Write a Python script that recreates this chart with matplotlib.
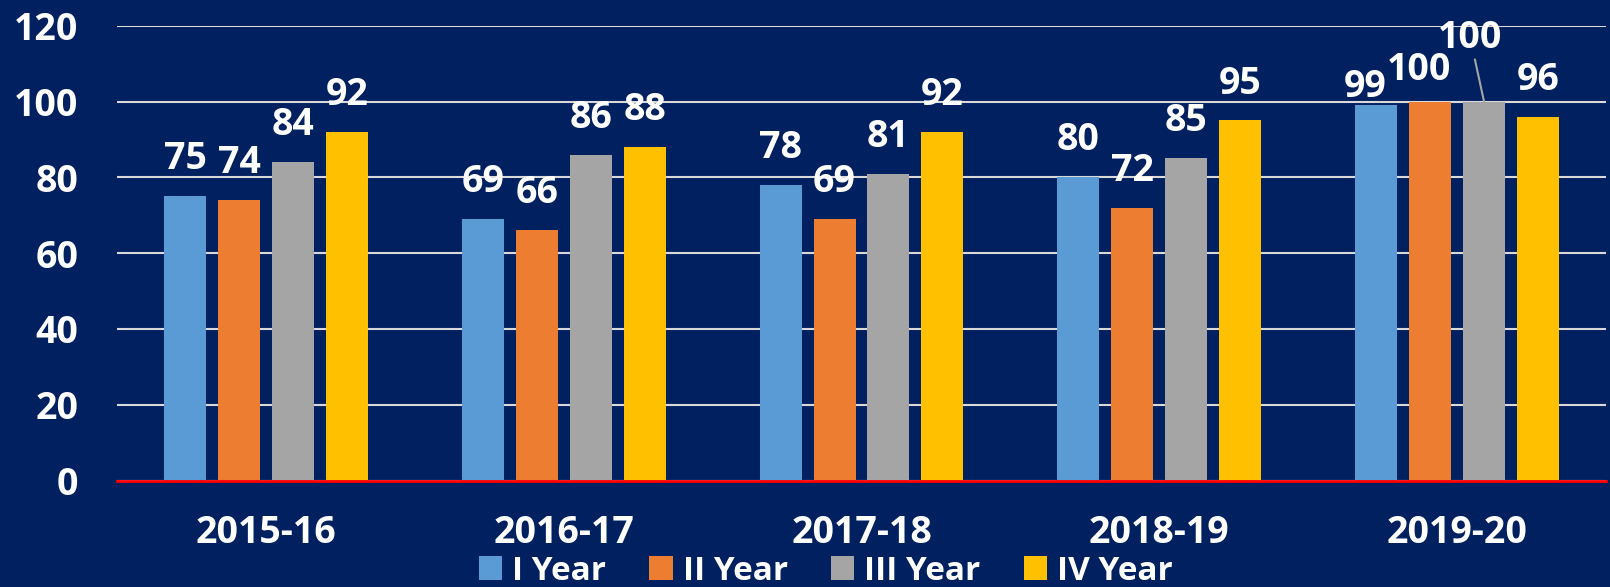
import numpy as np
import matplotlib
matplotlib.use("Agg")
from matplotlib import pyplot as plt

# chart data
years = ["2015-16", "2016-17", "2017-18", "2018-19", "2019-20"]
series_names = ["I Year", "II Year", "III Year", "IV Year"]
i_year = [75, 69, 78, 80, 99]
ii_year = [74, 66, 69, 72, 100]
iii_year = [84, 86, 81, 85, 100]
iv_year = [92, 88, 92, 95, 96]
yticks = [0, 20, 40, 60, 80, 100, 120]

colors = ["#5B9BD5", "#ED7D31", "#A5A5A5", "#FFC000"]
bg = "#00205F"

plt.rcParams["font.family"] = ["Open Sans", "DejaVu Sans"]
plt.rcParams["font.weight"] = "bold"

fig = plt.figure(figsize=(16.1, 5.87), dpi=100, facecolor=bg)
ax = fig.add_axes([0.0727, 0.1814, 0.9248, 0.7748], facecolor=bg)

x = np.arange(len(years))
width = 0.141
pitch = 0.181
all_vals = [i_year, ii_year, iii_year, iv_year]

# label offsets in points (dx, dy) - default is straight above the bar
default_off = (0, 26.6)
special_off = {(0, 4): (-8, 13), (1, 4): (-8, 23), (2, 4): (-10, 46)}

for s, vals in enumerate(all_vals):
    xs = x + (s - 1.5) * pitch
    ax.bar(xs, vals, width, color=colors[s], label=series_names[s], zorder=3)
    for j, v in enumerate(vals):
        dx, dy = special_off.get((s, j), default_off)
        props = None
        if (s, j) == (2, 4):
            props = dict(arrowstyle="-", color="#A5A5A5", lw=1.5, shrinkA=0, shrinkB=0)
        ax.annotate(str(v), xy=(xs[j], v), xytext=(dx, dy), textcoords="offset points",
                    ha="center", va="center", color="white", fontsize=27,
                    fontweight="bold", arrowprops=props, zorder=4)

ax.set_xlim(-0.5, len(years) - 0.5)
ax.set_ylim(0, 120)
ax.set_yticks(yticks)
ax.set_yticklabels([str(t) for t in yticks])
ax.set_xticks(x)
ax.set_xticklabels(years)
ax.tick_params(axis="y", length=0, pad=28, labelsize=27, labelcolor="white")
ax.tick_params(axis="x", length=0, pad=24, labelsize=27, labelcolor="white")
for lab in ax.get_xticklabels() + ax.get_yticklabels():
    lab.set_fontweight("bold")

ax.grid(axis="y", color="#D9D9D9", lw=1.5, zorder=0)
for sp in ax.spines.values():
    sp.set_visible(False)
ax.axhline(0, color="#FF0000", lw=2, zorder=4, clip_on=False)

leg = fig.legend(loc="center", bbox_to_anchor=(0.513, 0.027), ncol=4, frameon=False,
                 fontsize=24, handlelength=0.7, handleheight=0.7, handletextpad=0.3,
                 columnspacing=1.3, borderpad=0)
for t in leg.get_texts():
    t.set_color("white")
    t.set_fontweight("bold")

fig.savefig("out.png", dpi=100, facecolor=bg)
